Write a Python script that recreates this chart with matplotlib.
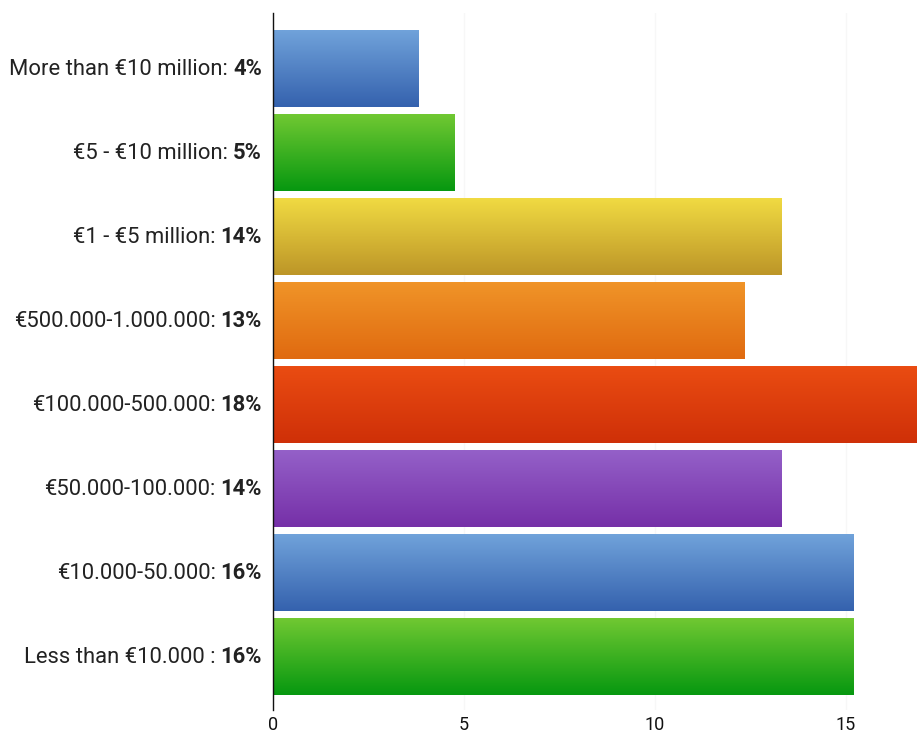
import matplotlib
matplotlib.use("Agg")
import matplotlib.pyplot as plt
import numpy as np
from matplotlib.colors import LinearSegmentedColormap

categories = ["More than €10 million:", "€5 - €10 million:", "€1 - €5 million:",
              "€500.000-1.000.000:", "€100.000-500.000:", "€50.000-100.000:",
              "€10.000-50.000:", "Less than €10.000 :"]
pct_labels = ["4%", "5%", "14%", "13%", "18%", "14%", "16%", "16%"]
values = [3.8, 4.75, 13.3, 12.35, 17.1, 13.3, 15.2, 15.2]
top_colors = ["#70a2da", "#70c832", "#f0da42", "#f09428", "#ea4c12", "#9460c8", "#70a2da", "#70c832"]
bot_colors = ["#3562ae", "#079810", "#bd9628", "#e06a10", "#cf3008", "#7630a8", "#3562ae", "#079810"]
xticks = [0, 5, 10, 15]

plt.rcParams['font.family'] = ['Roboto', 'DejaVu Sans']

fig = plt.figure(figsize=(9.17, 7.34), dpi=100)
ax = fig.add_axes([273/917, 1 - 710/734, 1 - 273/917, (710 - 13)/734])

n = len(values)
h = 0.905
for i, (v, tc, bc) in enumerate(zip(values, top_colors, bot_colors)):
    cmap = LinearSegmentedColormap.from_list("g%d" % i, [tc, bc])
    grad = np.linspace(0, 1, 64).reshape(-1, 1)
    ax.imshow(grad, cmap=cmap, aspect='auto', extent=(0, v, i + h/2, i - h/2),
              origin='upper', zorder=2, interpolation='bilinear')

ax.set_xlim(0, 16.86)
ax.set_ylim(n - 1 + 0.63, -0.667)
ax.set_xticks(xticks)
ax.set_xticklabels([str(t) for t in xticks], fontsize=13, color="#111111")
ax.tick_params(axis='x', length=0, pad=4)
ax.set_yticks([])
for s in ["top", "right", "bottom"]:
    ax.spines[s].set_visible(False)
ax.spines["left"].set_linewidth(1.0)
ax.spines["left"].set_color("#111111")
ax.spines["left"].set_zorder(3)
ax.grid(axis='x', color="#f7f7f7", linewidth=1, zorder=0)
ax.set_axisbelow(True)

fig.canvas.draw()
renderer = fig.canvas.get_renderer()
xpix = 262
fs = 15.8
for i, (cat, pl) in enumerate(zip(categories, pct_labels)):
    ypix = ax.transData.transform((0, i))[1]
    tb = fig.text(xpix / 917, ypix / 734, pl, ha='right', va='center', fontsize=fs,
                  fontweight='bold', color="#222222")
    w = tb.get_window_extent(renderer).width
    fig.text((xpix - w - 5) / 917, ypix / 734, cat, ha='right', va='center', fontsize=fs,
             color="#222222")

fig.savefig("out.png", dpi=100)
